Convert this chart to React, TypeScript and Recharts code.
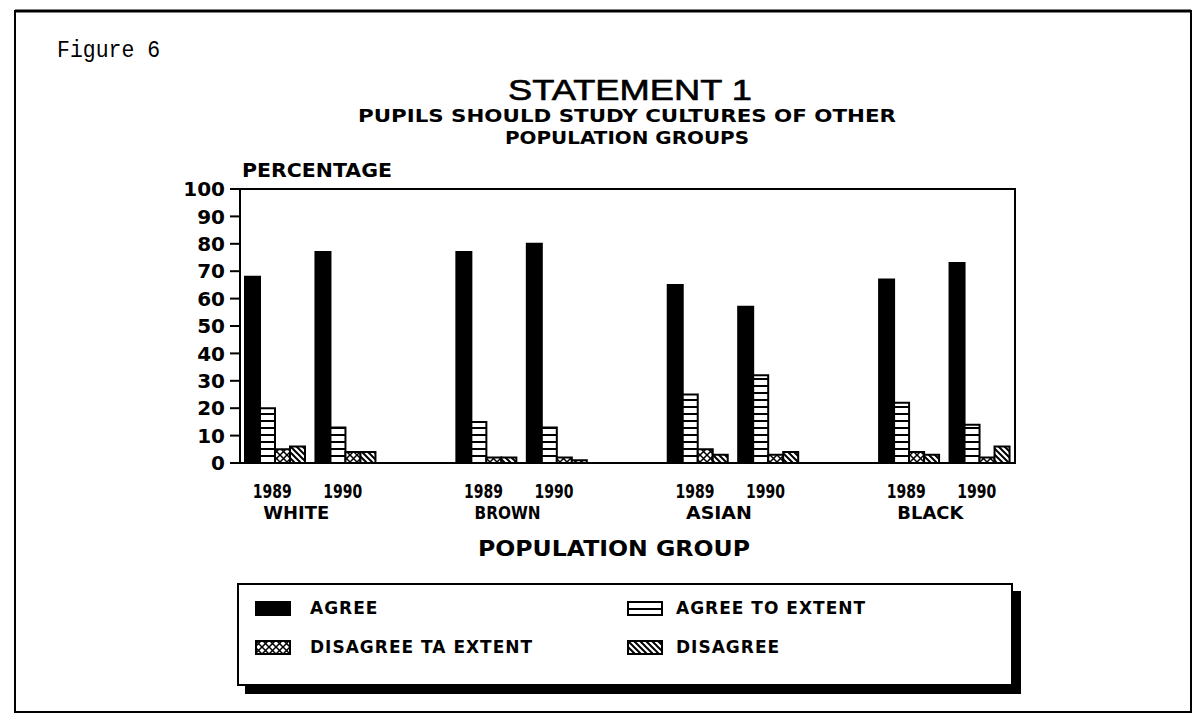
import React from 'react'
import { BarChart, Bar, XAxis, YAxis, Legend, ReferenceArea } from 'recharts'

const groupNames = ['WHITE', 'BROWN', 'ASIAN', 'BLACK']
const years = ['1989', '1990']

// one value per group and year, in the order above
const agree = [68, 77, 77, 80, 65, 57, 67, 73]
const agreeToExtent = [20, 13, 15, 13, 25, 32, 22, 14]
const disagreeToExtent = [5, 4, 2, 2, 5, 3, 4, 2]
const disagree = [6, 4, 2, 1, 3, 4, 3, 6]

const yTicks = [0, 10, 20, 30, 40, 50, 60, 70, 80, 90, 100]

const series = [
  { key: 'agree', name: 'AGREE', fill: 'solid' },
  { key: 'agreeExt', name: 'AGREE TO EXTENT', fill: 'hstripe' },
  { key: 'disagreeExt', name: 'DISAGREE TA EXTENT', fill: 'cross' },
  { key: 'disagree', name: 'DISAGREE', fill: 'diag' },
]

const FONT = "'DejaVu Sans', 'Liberation Sans', Arial, sans-serif"
const TITLE_FONT = "'Liberation Sans', Arial, sans-serif"

// groups are separated by an empty slot on the category axis
const data: any[] = []
groupNames.forEach((g, gi) => {
  years.forEach((yr, yi) => {
    const i = gi * years.length + yi
    data.push({
      key: `${g}-${yr}`,
      group: yi === 0 ? g : '',
      year: yr,
      agree: agree[i],
      agreeExt: agreeToExtent[i],
      disagreeExt: disagreeToExtent[i],
      disagree: disagree[i],
    })
  })
  if (gi < groupNames.length - 1) data.push({ key: `gap-${gi}`, group: '', year: '' })
})

function Patterns({ prefix }: { prefix: string }) {
  return (
    <defs>
      <pattern id={`${prefix}hstripe`} patternUnits="userSpaceOnUse" width={8} height={7}>
        <rect width={8} height={7} fill="#fff" />
        <rect width={8} height={2} fill="#000" />
      </pattern>
      <pattern id={`${prefix}cross`} patternUnits="userSpaceOnUse" width={7} height={7}>
        <rect width={7} height={7} fill="#fff" />
        <path d="M0,0 L7,7 M7,0 L0,7" stroke="#000" strokeWidth={1.5} />
      </pattern>
      <pattern id={`${prefix}diag`} patternUnits="userSpaceOnUse" width={6} height={6}>
        <rect width={6} height={6} fill="#fff" />
        <path d="M0,0 L6,6 M-1,5 L1,7 M5,-1 L7,1" stroke="#000" strokeWidth={2} />
      </pattern>
    </defs>
  )
}

const fillFor = (prefix: string, kind: string) => (kind === 'solid' ? '#000' : `url(#${prefix}${kind})`)

function YearTick(props: any) {
  const { x, y, payload } = props
  const row = data.find((d) => d.key === payload.value)
  if (!row || !row.year) return null
  return (
    <g>
      <text x={x - 3} y={y + 35} textAnchor="middle" fontFamily={FONT} fontWeight="bold" fontSize={19}
        textLength={39} lengthAdjust="spacingAndGlyphs" fill="#000">
        {row.year}
      </text>
      {row.group && (
        <text x={x + 21} y={y + 56} textAnchor="middle" fontFamily={FONT} fontWeight="bold" fontSize={17}
          textLength={66} lengthAdjust="spacingAndGlyphs" fill="#000">
          {row.group}
        </text>
      )}
    </g>
  )
}

function LegendBox(props: any) {
  const payload = props.payload || []
  return (
    <div
      style={{
        position: 'relative',
        width: 776,
        height: 103,
        border: '2px solid #000',
        boxShadow: '8px 8px 0 #000',
        background: '#fff',
        boxSizing: 'border-box',
        fontFamily: FONT,
      }}
    >
      <svg width={0} height={0} style={{ position: 'absolute' }}>
        <Patterns prefix="lg-" />
      </svg>
      {payload.map((entry: any) => {
        const i = series.findIndex((d) => d.key === entry.dataKey)
        if (i < 0) return null
        const s = series[i]
        const col = i % 2
        const row = Math.floor(i / 2)
        return (
          <div
            key={s.key}
            style={{
              position: 'absolute',
              left: col === 0 ? 16 : 388,
              top: row === 0 ? 13 : 52,
              display: 'flex',
              alignItems: 'center',
              height: 20,
            }}
          >
            <svg width={36} height={15}>
              <rect x={1} y={1} width={34} height={13} fill={fillFor('lg-', s.fill)} stroke="#000" strokeWidth={2} />
            </svg>
            <span
              style={{
                marginLeft: col === 0 ? 19 : 13,
                fontSize: 17,
                fontWeight: 'bold',
                letterSpacing: 1,
                color: '#000',
                whiteSpace: 'nowrap',
              }}
            >
              {s.name}
            </span>
          </div>
        )
      })}
    </div>
  )
}

export default function App() {
  return (
    <div style={{ position: 'absolute', left: 0, top: 0, width: 1197, height: 720, background: '#fff' }}>
      <BarChart
        width={1197}
        height={720}
        data={data}
        barSize={15}
        barGap={0}
        margin={{ top: 189, right: 182, bottom: 177, left: 180 }}
      >
        <Patterns prefix="bar-" />
        <ReferenceArea y1={0} y2={100} fill="none" stroke="#000" strokeWidth={2} ifOverflow="visible" />
        <XAxis
          dataKey="key"
          height={80}
          interval={0}
          tickLine={false}
          tickSize={0}
          tickMargin={0}
          axisLine={{ stroke: '#000', strokeWidth: 2 }}
          tick={<YearTick />}
        />
        <YAxis
          width={60}
          domain={[0, 100]}
          ticks={yTicks}
          interval={0}
          tickSize={10}
          tickMargin={5}
          axisLine={{ stroke: '#000', strokeWidth: 2 }}
          tickLine={{ stroke: '#000', strokeWidth: 2 }}
          tick={{ fill: '#000', fontSize: 20, fontWeight: 'bold', fontFamily: FONT }}
        />
        {series.map((s) => (
          <Bar
            key={s.key}
            dataKey={s.key}
            name={s.name}
            fill={fillFor('bar-', s.fill)}
            stroke="#000"
            strokeWidth={2}
            isAnimationActive={false}
          />
        ))}
        <Legend
          layout="horizontal"
          verticalAlign="middle"
          align="center"
          content={<LegendBox />}
          wrapperStyle={{ left: 237, top: 583, width: 776, height: 103 }}
        />
      </BarChart>

      <svg width={1197} height={720} style={{ position: 'absolute', left: 0, top: 0, pointerEvents: 'none' }}>
        <rect x={15} y={11} width={1176} height={701} fill="none" stroke="#000" strokeWidth={2} />
        <line x1={15} y1={11} x2={1191} y2={11} stroke="#000" strokeWidth={3} />
        <text x={57} y={57} fontFamily="'Liberation Mono', 'DejaVu Sans Mono', monospace" fontSize={24}
          textLength={103} lengthAdjust="spacingAndGlyphs" fill="#000">
          Figure 6
        </text>
        <text x={630} y={100} textAnchor="middle" fontFamily={TITLE_FONT} fontSize={29} textLength={244}
          lengthAdjust="spacingAndGlyphs" stroke="#000" strokeWidth={0.6} fill="#000">
          STATEMENT 1
        </text>
        <text x={627} y={122} textAnchor="middle" fontFamily={FONT} fontWeight="bold" fontSize={17}
          textLength={538} lengthAdjust="spacingAndGlyphs" fill="#000">
          PUPILS SHOULD STUDY CULTURES OF OTHER
        </text>
        <text x={627} y={144} textAnchor="middle" fontFamily={FONT} fontWeight="bold" fontSize={17}
          textLength={244} lengthAdjust="spacingAndGlyphs" fill="#000">
          POPULATION GROUPS
        </text>
        <text x={242} y={177} fontFamily={FONT} fontWeight="bold" fontSize={19} textLength={150}
          lengthAdjust="spacingAndGlyphs" fill="#000">
          PERCENTAGE
        </text>
        <text x={614} y={556} textAnchor="middle" fontFamily={FONT} fontWeight="bold" fontSize={21}
          textLength={272} lengthAdjust="spacingAndGlyphs" fill="#000">
          POPULATION GROUP
        </text>
      </svg>
    </div>
  )
}
